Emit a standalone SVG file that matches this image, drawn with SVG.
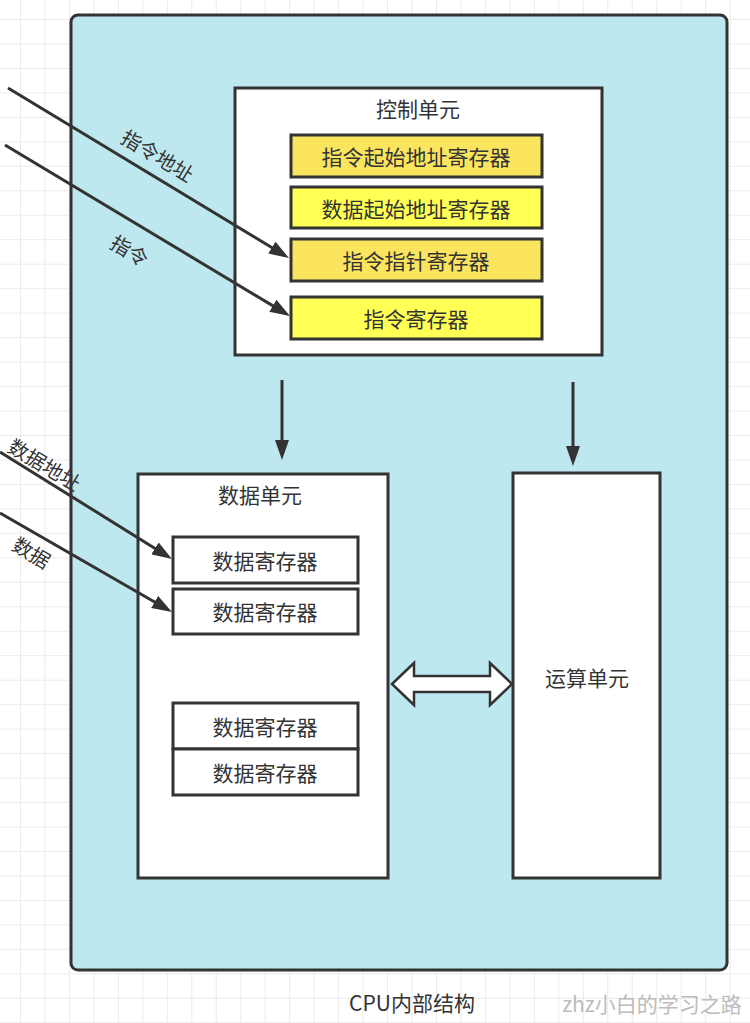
<svg xmlns="http://www.w3.org/2000/svg" width="750" height="1023" viewBox="0 0 750 1023">
<style>
text{font-family:"Noto Sans CJK SC","Liberation Sans",sans-serif;fill:#333;}
.t{font-size:21px;text-anchor:middle;dominant-baseline:central;}
.lbl{font-size:20px;text-anchor:middle;dominant-baseline:central;}
.box{fill:#fff;stroke:#333;stroke-width:3;}
.reg1{fill:#fbe55e;stroke:#333;stroke-width:3;}
.reg2{fill:#ffff55;stroke:#333;stroke-width:3;}
.line{fill:none;stroke:#333;stroke-width:3;marker-end:url(#arr);}
</style>
<defs>
<pattern id="grid" patternUnits="userSpaceOnUse" x="20" y="19" width="24.47" height="24.47">
<path d="M0 0.5H24.47M0.5 0V24.47" stroke="#ebebeb" stroke-width="1" fill="none"/>
</pattern>
<marker id="arr" markerUnits="userSpaceOnUse" viewBox="0 0 20 14" refX="10" refY="7" markerWidth="20" markerHeight="14" orient="auto">
<path d="M0,0L20,7L0,14Z" fill="#333"/>
</marker>
</defs>
<rect width="750" height="1023" fill="#fff"/>
<rect width="750" height="1023" fill="url(#grid)"/>
<g id="cpu">
<rect x="71" y="15" width="656" height="955" rx="7" fill="#bee8ef" stroke="#333" stroke-width="3"/>
</g>
<g id="control-unit">
<rect class="box" x="235" y="88" width="367" height="267"/>
<text class="t" x="418" y="108">控制单元</text>
</g>
<g id="reg-instr-start">
<rect class="reg1" x="291" y="135" width="251" height="42"/>
<text class="t" x="416" y="156">指令起始地址寄存器</text>
</g>
<g id="reg-data-start">
<rect class="reg2" x="291" y="187" width="251" height="41"/>
<text class="t" x="416" y="208">数据起始地址寄存器</text>
</g>
<g id="reg-instr-ptr">
<rect class="reg1" x="291" y="239" width="251" height="42"/>
<text class="t" x="416" y="260">指令指针寄存器</text>
</g>
<g id="reg-instr">
<rect class="reg2" x="291" y="297" width="251" height="42"/>
<text class="t" x="416" y="318">指令寄存器</text>
</g>
<g id="data-unit">
<rect class="box" x="138" y="474" width="250" height="404"/>
<text class="t" x="260" y="494">数据单元</text>
</g>
<g id="data-reg-1">
<rect class="box" x="173" y="537" width="185" height="46"/>
<text class="t" x="265" y="560">数据寄存器</text>
</g>
<g id="data-reg-2">
<rect class="box" x="173" y="589" width="185" height="45"/>
<text class="t" x="265" y="611">数据寄存器</text>
</g>
<g id="data-reg-3">
<rect class="box" x="173" y="703" width="185" height="46"/>
<text class="t" x="265" y="726">数据寄存器</text>
</g>
<g id="data-reg-4">
<rect class="box" x="173" y="749" width="185" height="46"/>
<text class="t" x="265" y="772">数据寄存器</text>
</g>
<g id="alu">
<rect class="box" x="513" y="473" width="147" height="405"/>
<text class="t" x="587" y="677">运算单元</text>
</g>
<g id="connectors">
<path class="line" d="M8,88L280.4,252.8"/>
<path class="line" d="M5,145L281.4,310.9"/>
<path class="line" d="M0,452L163.5,553.7"/>
<path class="line" d="M0,513L163.3,607"/>
<path class="line" d="M282,380V450"/>
<path class="line" d="M573,382V456"/>
<polygon points="392,684 414,663 414,676 490,676 490,663 512,684 490,705 490,692 414,692 414,705" fill="#fff" stroke="#333" stroke-width="2.5" stroke-linejoin="miter"/>
<text class="lbl" x="158" y="155" transform="rotate(31 158 155)">指令地址</text>
<text class="lbl" x="130" y="250" transform="rotate(31 130 250)">指令</text>
<text class="lbl" x="45" y="464" transform="rotate(31 45 464)">数据地址</text>
<text class="lbl" x="32" y="552" transform="rotate(31 32 552)">数据</text>
</g>
<text class="t" x="412" y="1002">CPU内部结构</text>
<text class="t" x="652" y="1003" style="fill:#bcbcbc">zhz小白的学习之路</text>
</svg>
